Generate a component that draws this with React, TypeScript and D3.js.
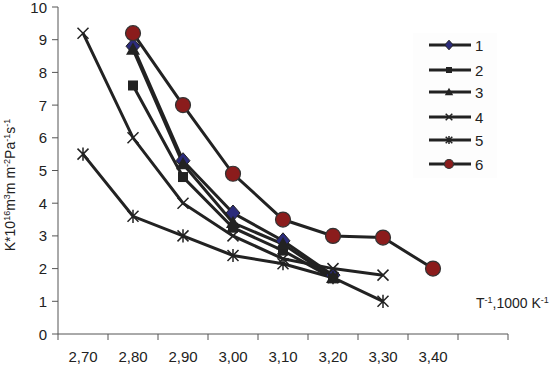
import React from 'react';
import * as d3 from 'd3';

const categories = ['2,70', '2,80', '2,90', '3,00', '3,10', '3,20', '3,30', '3,40', ''];
const yTicks = [0, 1, 2, 3, 4, 5, 6, 7, 8, 9, 10];

// null = no point for this category
const series1 = [null, 8.8, 5.3, 3.7, 2.85, 1.8, null, null, null];
const series2 = [null, 7.6, 4.8, 3.25, 2.55, 1.7, null, null, null];
const series3 = [null, 8.7, 5.2, 3.4, 2.75, 1.72, null, null, null];
const series4 = [9.2, 6.0, 4.0, 3.0, 2.3, 2.0, 1.8, null, null];
const series5 = [5.5, 3.6, 3.0, 2.4, 2.15, 1.72, 1.0, null, null];
const series6 = [null, 9.2, 7.0, 4.9, 3.5, 3.0, 2.95, 2.0, null];

const seriesNames = ['1', '2', '3', '4', '5', '6'];
const seriesData = [series1, series2, series3, series4, series5, series6];
const markerKinds = ['diamond', 'square', 'triangle', 'x', 'star', 'circle'];

const LINE = '#222';

function marker(kind: string, cx: number, cy: number, s: number, key: string) {
  // s = scale, 1 for the plot, smaller in legend
  if (kind === 'diamond') {
    const w = 7 * s, h = 8 * s;
    return <path key={key} d={`M${cx},${cy - h}L${cx + w},${cy}L${cx},${cy + h}L${cx - w},${cy}Z`} fill="#2b2b7a" stroke="#222" strokeWidth={1} />;
  }
  if (kind === 'square') {
    const r = 5 * s;
    return <rect key={key} x={cx - r} y={cy - r} width={2 * r} height={2 * r} fill="#222" />;
  }
  if (kind === 'triangle') {
    const r = 7 * s;
    return <path key={key} d={`M${cx},${cy - r}L${cx + r},${cy + r * 0.75}L${cx - r},${cy + r * 0.75}Z`} fill="#222" />;
  }
  if (kind === 'x') {
    const r = 5.5 * s;
    return <path key={key} d={`M${cx - r},${cy - r}L${cx + r},${cy + r}M${cx - r},${cy + r}L${cx + r},${cy - r}`} stroke="#222" strokeWidth={1.5} fill="none" />;
  }
  if (kind === 'star') {
    const r = 5.5 * s;
    return <path key={key} d={`M${cx - r},${cy - r}L${cx + r},${cy + r}M${cx - r},${cy + r}L${cx + r},${cy - r}M${cx},${cy - r * 1.2}L${cx},${cy + r * 1.2}`} stroke="#222" strokeWidth={1.5} fill="none" />;
  }
  return <circle key={key} cx={cx} cy={cy} r={7.5 * s} fill="#8b1c1c" stroke="#333" strokeWidth={1.2} />;
}

export default function App() {
  const width = 553;
  const height = 368;
  const left = 58, right = 508, top = 7, bottom = 334;

  const x = d3.scaleBand<number>()
    .domain(categories.map((_, i) => i))
    .range([left, right])
    .padding(0);
  const y = d3.scaleLinear().domain([0, 10]).range([bottom, top]);
  const cx = (i: number) => (x(i) as number) + x.bandwidth() / 2;

  const line = d3.line<[number, number | null]>()
    .defined(d => d[1] !== null)
    .x(d => cx(d[0]))
    .y(d => y(d[1] as number));

  const font = '"Liberation Sans", Arial, sans-serif';

  return (
    <svg width={width} height={height} style={{ position: 'absolute', left: 0, top: 0, background: '#fff' }} fontFamily={font}>
      {/* axes */}
      <line x1={left} x2={left} y1={top} y2={bottom} stroke="#555" strokeWidth={1} />
      <line x1={left} x2={right} y1={bottom} y2={bottom} stroke="#555" strokeWidth={1} />
      {yTicks.map(t => (
        <g key={'y' + t}>
          <line x1={left - 6} x2={left} y1={y(t)} y2={y(t)} stroke="#555" />
          <text x={47} y={y(t) + 5.5} textAnchor="end" fontSize={15} fill="#222">{t}</text>
        </g>
      ))}
      {categories.map((c, i) => (
        <g key={'x' + i}>
          <line x1={x(i) as number} x2={x(i) as number} y1={bottom} y2={bottom + 6} stroke="#555" />
          <text x={cx(i)} y={362} textAnchor="middle" fontSize={15} fill="#222">{c}</text>
        </g>
      ))}
      <line x1={right} x2={right} y1={bottom} y2={bottom + 6} stroke="#555" />

      {/* series lines */}
      {seriesData.map((s, k) => (
        <path key={'l' + k} d={line(s.map((v, i) => [i, v] as [number, number | null])) || ''} fill="none" stroke={LINE} strokeWidth={3} />
      ))}
      {/* markers */}
      {seriesData.map((s, k) => s.map((v, i) => v === null ? null : marker(markerKinds[k], cx(i), y(v), 1, `m${k}-${i}`)))}

      {/* legend */}
      <rect x={413} y={33} width={84} height={145} fill="#fdfdfd" />
      {seriesNames.map((n, k) => {
        const ly = [45, 70, 92, 117, 140, 164][k];
        return (
          <g key={'lg' + k}>
            <line x1={429} x2={471} y1={ly} y2={ly} stroke={LINE} strokeWidth={3} />
            {marker(markerKinds[k], 449, ly, 0.6, 'lm' + k)}
            <text x={475} y={ly + 5.5} fontSize={15} fill="#222">{n}</text>
          </g>
        );
      })}

      {/* axis titles */}
      <text x={476} y={308} fontSize={14} fill="#222">
        T<tspan dy={-5} fontSize={9}>-1</tspan><tspan dy={5}>,1000 K</tspan><tspan dy={-5} fontSize={9}>-1</tspan>
      </text>
      <text transform="translate(15,185) rotate(-90)" textAnchor="middle" fontSize={14} fill="#222">
        K*10<tspan dy={-5} fontSize={9}>16</tspan><tspan dy={5}>m</tspan><tspan dy={-5} fontSize={9}>3</tspan><tspan dy={5}>m m</tspan><tspan dy={-5} fontSize={9}>-2</tspan><tspan dy={5}>Pa</tspan><tspan dy={-5} fontSize={9}>-1</tspan><tspan dy={5}>s</tspan><tspan dy={-5} fontSize={9}>-1</tspan>
      </text>
    </svg>
  );
}
